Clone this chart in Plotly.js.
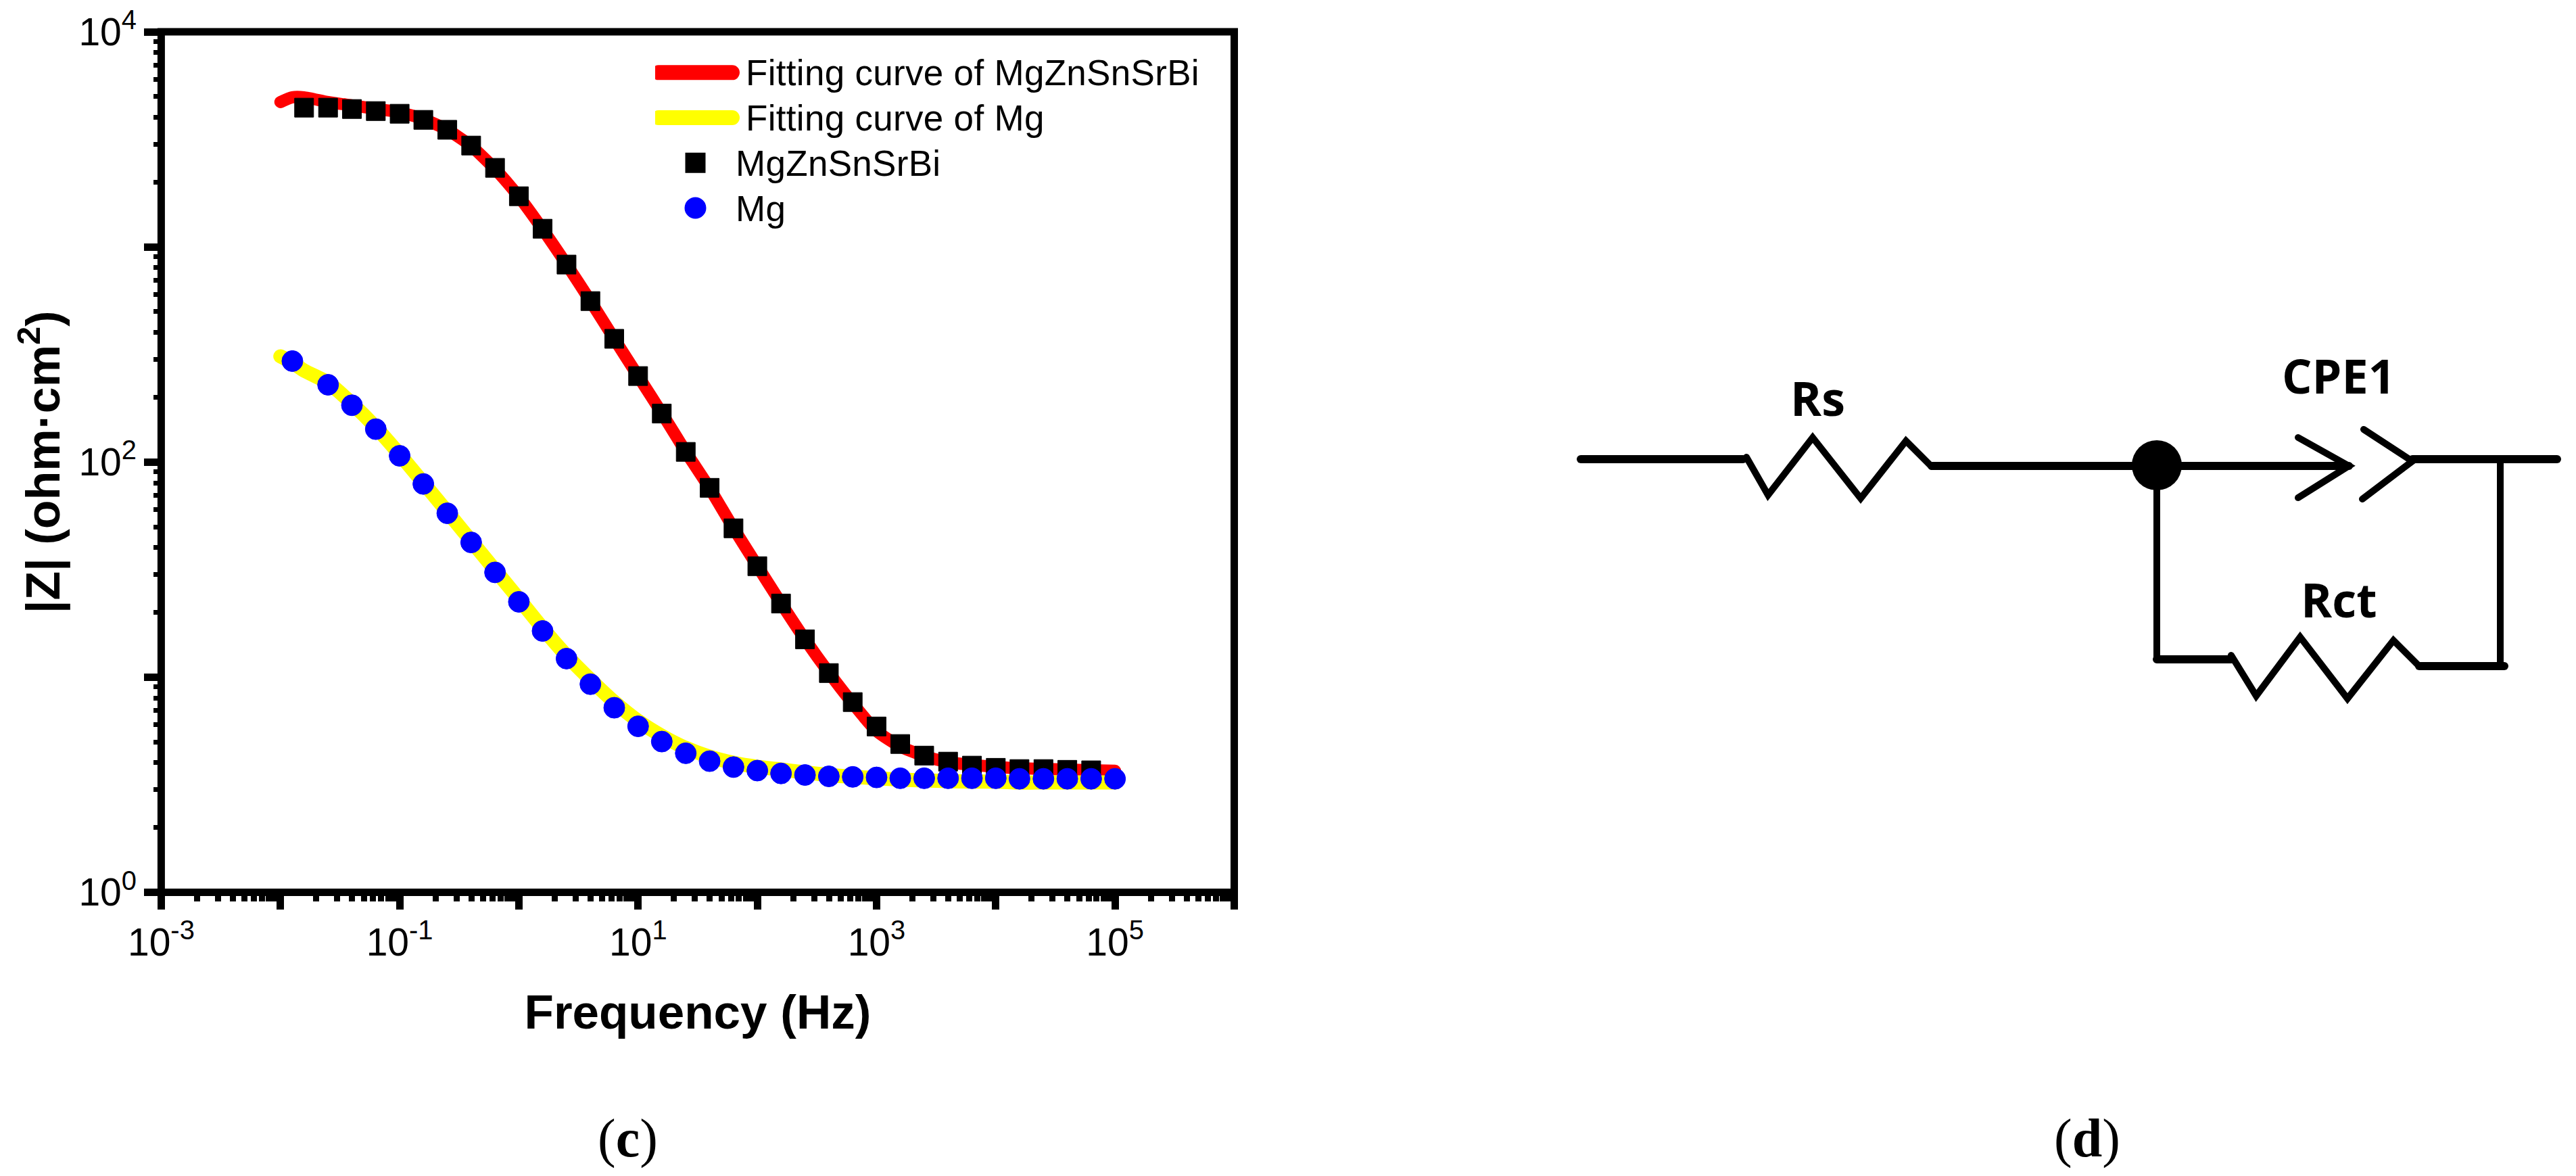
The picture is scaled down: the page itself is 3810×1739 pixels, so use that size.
<!DOCTYPE html>
<html>
<head>
<meta charset="utf-8">
<script src="https://cdn.plot.ly/plotly-3.0.1.min.js"></script>
<style>
html,body{margin:0;padding:0;background:#fff}
.scatterlayer .js-line{stroke-linecap:round}
.legendlines path{stroke-linecap:round;stroke-width:22px !important}
.legendtext{font-size:53px !important;letter-spacing:0.3px}
.legend .traces:nth-of-type(3) .scatterpts{stroke-width:14px !important}
.legend .traces:nth-of-type(4) .scatterpts{stroke-width:16px !important}
</style>
</head>
<body>
<div id="chart" style="width:3810px;height:1739px"></div>
<script>
// ----- measured series -----
const fitFreq = [0.01,0.0126,0.0158,0.0251,0.0398,0.0631,0.1,0.158,0.251,0.398,0.631,1,1.58,2.51,3.98,6.31,10,15.8,25.1,39.8,63.1,100,158,251,398,631,1000,1580,2510,3980,6310,10000,15800,25100,39800,63100,100000];
const fitAlloy = [4713,4959,4959,4713,4546,4384,4228,3932,3503,2944,2302,1711,1209,830,561,374,251,169,111.7,75.6,49.3,32.9,22.1,15.0,10.5,7.56,5.62,4.76,4.30,4.03,3.91,3.83,3.77,3.75,3.72,3.69,3.67];
const fitMg = [310,290,266,234,187,145,108.5,80.1,58.7,43.0,31.5,23.1,16.9,12.6,9.74,7.67,6.26,5.34,4.69,4.27,4.00,3.83,3.72,3.61,3.51,3.44,3.39,3.34,3.31,3.29,3.27,3.27,3.24,3.24,3.24,3.24,3.24];
const alloyFreq = [0.0158,0.0251,0.0398,0.0631,0.1,0.158,0.251,0.398,0.631,1,1.58,2.51,3.98,6.31,10,15.8,25.1,39.8,63.1,100,158,251,398,631,1000,1580,2510,3980,6310,10000,15800,25100,39800,63100];
const alloyZ = [4440,4440,4375,4280,4159,3896,3503,2959,2331,1720,1215,828,560,374,251,168,111.5,75.9,49.2,32.8,22.0,15.0,10.45,7.66,5.90,4.89,4.32,4.05,3.88,3.79,3.74,3.74,3.71,3.69];
const mgFreq = [0.0126,0.0251,0.0398,0.0631,0.1,0.158,0.251,0.398,0.631,1,1.58,2.51,3.98,6.31,10,15.8,25.1,39.8,63.1,100,158,251,398,631,1000,1580,2510,3980,6310,10000,15800,25100,39800,63100,100000];
const mgZ = [294.7,228.7,183.7,142.2,106.9,79.1,57.8,42.3,30.7,22.4,16.4,12.2,9.28,7.21,5.91,5.02,4.43,4.07,3.82,3.68,3.57,3.51,3.46,3.44,3.42,3.39,3.39,3.39,3.39,3.39,3.37,3.37,3.37,3.37,3.37];

// ----- names and ticks -----
const nameFitAlloy = "\u00a0Fitting curve of MgZnSnSrBi";
const nameFitMg = "\u00a0Fitting curve of Mg";
const nameAlloy = "MgZnSnSrBi";
const nameMg = "Mg";
const xTickVals = [1e-3,1e-2,1e-1,1,10,100,1e3,1e4,1e5,1e6];
const xTickText = ["10<sup>-3</sup>","","10<sup>-1</sup>","","10<sup>1</sup>","","10<sup>3</sup>","","10<sup>5</sup>",""];
const yTickVals = [1,10,100,1000,10000];
const yTickText = ["10<sup>0</sup>","","10<sup>2</sup>","","10<sup>4</sup>"];
const minorDigits = [2,3,4,5,6,7,8,9];
const minorsFor = v => v.slice(0,-1).flatMap(d => minorDigits.map(m => +(d*m).toPrecision(3)));

// ----- equivalent circuit (page-pixel sketch coordinates) -----
const wires = [
  {x:[2338,2578], y:[679,679], w:12},
  {x:[2583,2615,2681,2752,2819,2857], y:[676,732,647,737,652,690], w:10},
  {x:[2857,3474], y:[689,689], w:12},
  {x:[3399,3474,3399], y:[647,689,736], w:10},
  {x:[3496,3568,3494], y:[635,682,738], w:10},
  {x:[3568,3782], y:[679,679], w:12},
  {x:[3698,3698], y:[679,985], w:10},
  {x:[3190,3190], y:[690,975], w:10},
  {x:[3190,3300], y:[975,975], w:12},
  {x:[3300,3337,3402,3472,3540,3578], y:[969,1029,942,1033,947,985], w:10},
  {x:[3578,3704], y:[985,985], w:12}
];
const nodeX = [3190], nodeY = [688];
const circuitLabels = [
  {text:"Rs", x:2688, y:588},
  {text:"CPE1", x:3459, y:555},
  {text:"Rct", x:3459, y:886}
];
const captions = [
  {text:"(<b>c</b>)", x:928, y:1683},
  {text:"(<b>d</b>)", x:3087, y:1683}
];

const W = 3810, H = 1739;
const plotL = 238.4, plotR = 1825.5, plotT = 47, plotB = 1319.5;

const traces = [
  {x:fitFreq,y:fitAlloy,name:nameFitAlloy,mode:"lines",line:{color:"#ff0000",width:18,shape:"spline",smoothing:0.6}},
  {x:fitFreq,y:fitMg,name:nameFitMg,mode:"lines",line:{color:"#ffff00",width:21,shape:"spline",smoothing:0.6}},
  {x:alloyFreq,y:alloyZ,name:nameAlloy,mode:"markers",marker:{symbol:"square",color:"#000000",size:28,line:{color:"#000000",width:1}}},
  {x:mgFreq,y:mgZ,name:nameMg,mode:"markers",marker:{symbol:"circle",color:"#0000ff",size:31,line:{color:"#0000ff",width:1}}}
];
wires.forEach(s => traces.push({x:s.x,y:s.y,xaxis:"x2",yaxis:"y2",mode:"lines",showlegend:false,hoverinfo:"skip",line:{color:"#000000",width:s.w}}));
traces.push({x:nodeX,y:nodeY,xaxis:"x2",yaxis:"y2",mode:"markers",showlegend:false,hoverinfo:"skip",marker:{color:"#000000",size:74}});

const tickFont = {family:"Liberation Sans",size:57,color:"#000"};

const layout = {
  width:W,height:H,
  margin:{l:0,r:0,t:0,b:0,pad:0},
  paper_bgcolor:"#ffffff",plot_bgcolor:"rgba(0,0,0,0)",
  xaxis:{
    type:"log",range:[-3,6],domain:[plotL/W,plotR/W],anchor:"y",
    showgrid:false,zeroline:false,showline:false,
    ticks:"outside",ticklen:24.5,tickwidth:11,tickcolor:"#000",
    tickmode:"array",tickvals:xTickVals,ticktext:xTickText,tickangle:0,tickfont:tickFont,
    minor:{ticks:"outside",ticklen:12.5,tickwidth:9,tickcolor:"#000",tickmode:"array",tickvals:minorsFor(xTickVals),showgrid:false},
    title:{text:"Frequency (Hz)",standoff:46,font:{family:"Liberation Sans",size:71,color:"#000",weight:"bold"}}
  },
  yaxis:{
    type:"log",range:[0,4],domain:[1-plotB/H,1-plotT/H],anchor:"x",
    showgrid:false,zeroline:false,showline:false,
    ticks:"outside",ticklen:24,tickwidth:11,tickcolor:"#000",
    tickmode:"array",tickvals:yTickVals,ticktext:yTickText,tickfont:tickFont,
    minor:{ticks:"outside",ticklen:10,tickwidth:7,tickcolor:"#000",tickmode:"array",tickvals:minorsFor(yTickVals),showgrid:false},
    title:{text:"|Z| (ohm·cm<sup>2</sup>)",font:{family:"Liberation Sans",size:70,color:"#000",weight:"bold"}}
  },
  xaxis2:{domain:[0,1],range:[0,W],visible:false,anchor:"y2",fixedrange:true},
  yaxis2:{domain:[0,1],range:[H,0],visible:false,anchor:"x2",fixedrange:true},
  legend:{
    x:969/W,y:1-69/H,xanchor:"left",yanchor:"top",
    bgcolor:"rgba(0,0,0,0)",borderwidth:0,itemwidth:109,
    font:{family:"Liberation Sans",size:49,color:"#000"},
    traceorder:"normal"
  },
  showlegend:true,
  shapes:[{type:"rect",xref:"x domain",yref:"y domain",x0:0,x1:1,y0:0,y1:1,line:{color:"#000",width:11},fillcolor:"rgba(0,0,0,0)",layer:"above"}],
  annotations:[
    ...circuitLabels.map(a=>({xref:"x2",yref:"y2",x:a.x,y:a.y,text:a.text,showarrow:false,xanchor:"center",yanchor:"middle",font:{family:"Open Sans",size:70,color:"#000",weight:"bold"}})),
    ...captions.map(a=>({xref:"x2",yref:"y2",x:a.x,y:a.y,text:a.text,showarrow:false,xanchor:"center",yanchor:"middle",font:{family:"Liberation Serif",size:80,color:"#000"}}))
  ]
};
Plotly.newPlot("chart",traces,layout,{staticPlot:true,displayModeBar:false});
</script>
</body>
</html>
